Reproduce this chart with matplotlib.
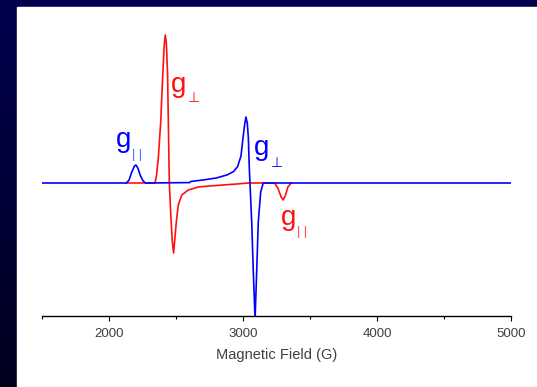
import numpy as np
import matplotlib
matplotlib.use("Agg")
import matplotlib.pyplot as plt
from matplotlib.patches import Rectangle

# ---- data (field in G, intensity in arbitrary units) ----
blue_field = [1500, 2130, 2150, 2170, 2190, 2201, 2215, 2235, 2255, 2272, 2600, 2610,
              2700, 2800, 2880, 2930, 2960, 2985, 3000, 3012, 3022, 3032, 3040, 3047,
              3052, 3065, 3077, 3090, 3102, 3114, 3132, 3151, 5000]
blue_int = [0, 0, 3, 11, 17, 18, 15, 7, 2, 0, 0.4, 1.5,
            3, 5, 8, 11.5, 16.5, 27, 45, 58, 66, 60, 45, 15,
            0, -39, -89, -136, -89, -39, -9, 0, 0]

red_field = [2130, 2343, 2355, 2368, 2386, 2401, 2412, 2420, 2428, 2437, 2450, 2460,
             2472, 2482, 2492, 2503, 2517, 2543, 2592, 2666, 2750, 2850, 2953, 3040,
             3235, 3260, 3285, 3300, 3315, 3335, 3360]
red_int = [0, 0, 8, 25, 61, 108, 138, 148, 140, 110, 1, -29,
           -58, -70, -55, -38, -22, -12, -7, -4, -3, -2, -1, 0,
           0, -5, -14, -17, -13, -4, 0]

x_major = [2000, 3000, 4000, 5000]
x_minor = [1500, 2500, 3500, 4500]
x_label = "Magnetic Field (G)"

W, H = 537, 387
fig = plt.figure(figsize=(W / 100, H / 100), dpi=100)

# background gradient (dark navy) + white panel
bg = fig.add_axes([0, 0, 1, 1])
grad = np.linspace(0, 1, 256).reshape(-1, 1)
top = np.array([0, 0, 80]) / 255
bot = np.array([0, 0, 30]) / 255
img = top[None, None, :] * (1 - grad[:, :, None]) + bot[None, None, :] * grad[:, :, None]
bg.imshow(img, aspect="auto", extent=[0, 1, 0, 1], origin="upper")
bg.add_patch(Rectangle((17 / W, 0), 1 - 17 / W, (H - 7) / H, color="white", zorder=2))
bg.set_xlim(0, 1)
bg.set_ylim(0, 1)
bg.axis("off")

ax = fig.add_axes([42 / W, (H - 316) / H, (511 - 42) / W, (316 - 20) / H])
ax.patch.set_alpha(0)
ax.plot(red_field, red_int, color="#ff1010", lw=1.2, zorder=2)
ax.plot(blue_field, blue_int, color="#0000ff", lw=1.2, zorder=3)
ax.set_xlim(1500, 5000)
ax.set_ylim(-133, 163)

for s in ["top", "right", "left"]:
    ax.spines[s].set_visible(False)
ax.spines["bottom"].set_linewidth(1.0)
ax.set_yticks([])
ax.set_xticks(x_major)
ax.set_xticks(x_minor, minor=True)
ax.tick_params(axis="x", which="major", direction="out", length=3.5, width=0.8,
               pad=5, labelsize=9.5, labelcolor="#404040")
ax.tick_params(axis="x", which="minor", direction="out", length=2.5, width=0.8)
for t in ax.get_xticklabels():
    t.set_fontfamily(["Liberation Sans", "DejaVu Sans"])
ax.set_xlabel(x_label, fontsize=10.5, color="#404040", labelpad=6,
              fontfamily=["Liberation Sans", "DejaVu Sans"])

fam = ["Liberation Sans", "DejaVu Sans"]
blue = "#0000ff"
red = "#ff1010"
# labels
ax.text(2048, 36, "g", color=blue, fontsize=20, family=fam, ha="left", va="baseline")
ax.text(2170, 25, "| |", color="#4060ff", fontsize=9, family=fam, ha="left", va="baseline")
ax.text(2460, 91, "g", color=red, fontsize=20, family=fam, ha="left", va="baseline")
ax.text(2590, 81, "⊥", color=red, fontsize=10, family=fam, ha="left", va="baseline")
ax.text(3080, 28, "g", color=blue, fontsize=20, family=fam, ha="left", va="baseline")
ax.text(3210, 16, "⊥", color=blue, fontsize=10, family=fam, ha="left", va="baseline")
ax.text(3282, -42, "g", color=red, fontsize=20, family=fam, ha="left", va="baseline")
ax.text(3405, -52, "| |", color="#ff4040", fontsize=9, family=fam, ha="left", va="baseline")

fig.savefig("out.png", dpi=100)
